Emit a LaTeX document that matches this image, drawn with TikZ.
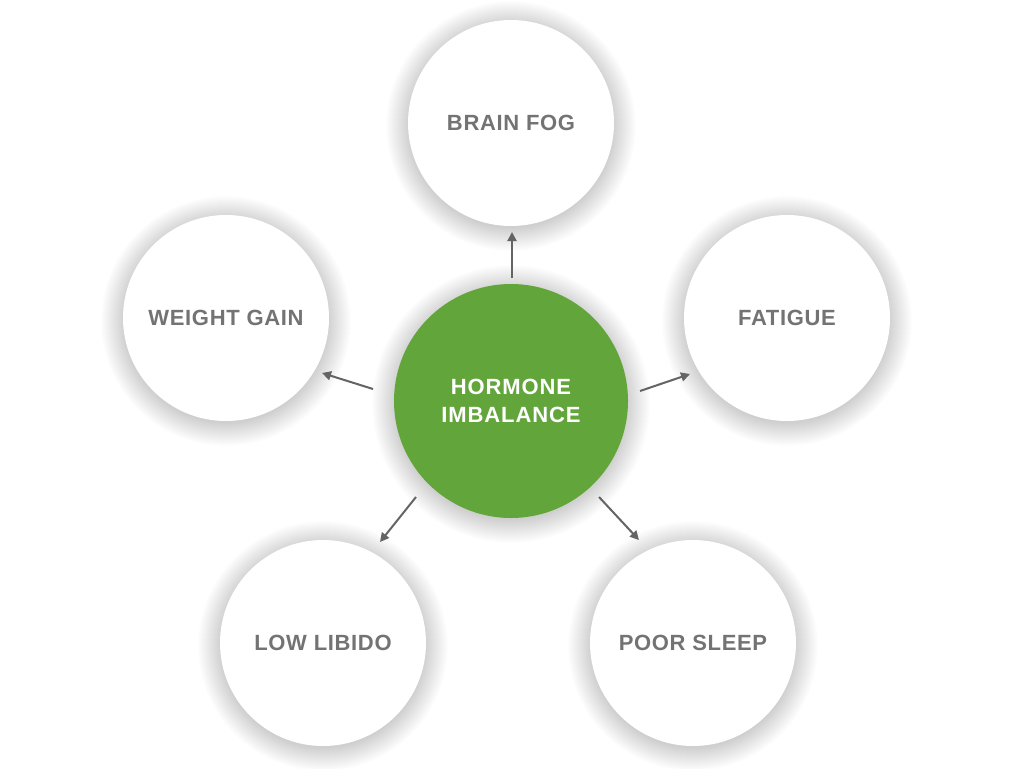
\documentclass[tikz,border=0pt]{standalone}
\usepackage{fontspec}
\setmainfont{Liberation Sans}
\usetikzlibrary{arrows.meta}
\definecolor{leaf}{HTML}{62A53B}
\definecolor{labelgray}{HTML}{737373}
\definecolor{arrowgray}{HTML}{646464}
\tikzset{
  bubble/.style={circle, fill=white, minimum size=206pt, inner sep=0pt, align=center,
    font=\fontsize{22}{28}\selectfont\bfseries\addfontfeatures{LetterSpace=3}, text=labelgray},
  hub/.style={circle, fill=leaf, minimum size=234pt, inner sep=0pt, align=center,
    font=\fontsize{22}{28}\selectfont\bfseries\addfontfeatures{LetterSpace=4}, text=white},
  arr/.style={draw=arrowgray, line width=2pt, -{Triangle[length=9pt,width=9pt]}},
}
\newcommand{\softshadow}[3]{%
  \foreach \k in {1,...,24}{\fill[black, opacity=0.0065] (#1,#2+3) circle ({#3+\k-2});}%
}
\begin{document}
\begin{tikzpicture}[x=1pt,y=-1pt]
\useasboundingbox (0,0) rectangle (1024,768);
\fill[white] (0,0) rectangle (1024,768);
% shadows
\softshadow{511}{401}{117}
\softshadow{511}{123}{103}
\softshadow{226}{318}{103}
\softshadow{787}{318}{103}
\softshadow{323}{643}{103}
\softshadow{693}{643}{103}
% nodes
\node[hub] (C) at (511,401) {HORMONE\\IMBALANCE};
\node[bubble] (BF) at (511,123) {BRAIN FOG};
\node[bubble] (WG) at (226,318) {WEIGHT GAIN};
\node[bubble] (FA) at (787,318) {FATIGUE};
\node[bubble] (LL) at (323,643) {LOW LIBIDO};
\node[bubble] (PS) at (693,643) {POOR SLEEP};
% arrow end points
\coordinate (tBF) at (512,278); \coordinate (hBF) at (512,232);
\coordinate (tWG) at (373,389); \coordinate (hWG) at (322,373);
\coordinate (tFA) at (640,391); \coordinate (hFA) at (690,374);
\coordinate (tLL) at (416,497); \coordinate (hLL) at (380,542);
\coordinate (tPS) at (599,497); \coordinate (hPS) at (639,540);
\draw[arr] (tBF) -- (hBF);
\draw[arr] (tWG) -- (hWG);
\draw[arr] (tFA) -- (hFA);
\draw[arr] (tLL) -- (hLL);
\draw[arr] (tPS) -- (hPS);
\end{tikzpicture}
\end{document}
